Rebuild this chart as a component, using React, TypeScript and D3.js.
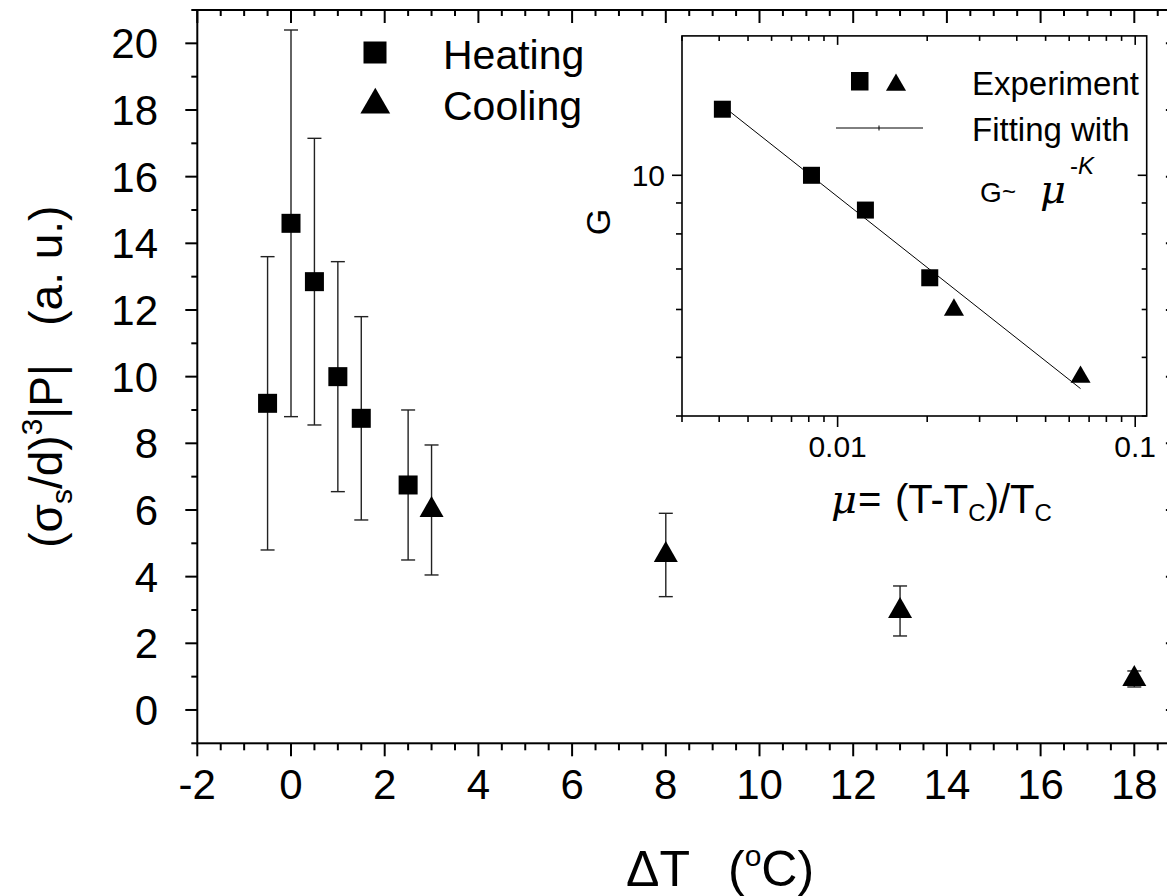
import React from 'react';
import * as d3 from 'd3';

// ---- main chart data ----
const heatingDT = [-0.5, 0, 0.5, 1, 1.5, 2.5];
const heatingVal = [9.2, 14.6, 12.85, 10.0, 8.75, 6.75];
const heatingErr = [4.4, 5.8, 4.3, 3.45, 3.05, 2.25];
const coolingDT = [3, 8, 13, 18];
const coolingVal = [6.0, 4.65, 2.97, 0.93];
const coolingErr = [1.95, 1.25, 0.75, 0.24];
const xTickValues = [-2, 0, 2, 4, 6, 8, 10, 12, 14, 16, 18];
const yTickValues = [0, 2, 4, 6, 8, 10, 12, 14, 16, 18, 20];

// ---- inset data ----
const insetHeatMu = [0.0041, 0.00817, 0.0124, 0.0204];
const insetHeatG = [12.86, 10.0, 8.76, 6.77];
const insetCoolMu = [0.0246, 0.0655];
const insetCoolG = [5.99, 4.64];
const fitMu = [0.00434, 0.0655];
const fitG = [12.75, 4.44];
const insetXMajor = [0.01, 0.1];
const insetXLabels = ['0.01', '0.1'];
const insetYMajor = [10];
const insetYLabels = ['10'];
const logMantissas = [2, 3, 4, 5, 6, 7, 8, 9];

const FONT = "'Liberation Sans', Arial, Helvetica, sans-serif";

export default function App() {
  const W = 1167, H = 896;
  const x = d3.scaleLinear().domain([-2, 18.93]).range([197.3, 197.3 + 20.93 * 46.85]);
  const y = d3.scaleLinear().domain([-1, 21]).range([743.3, 10]);
  const [x0, x1] = x.range();
  const [yb, yt] = y.range();

  const ix = d3.scaleLog().domain([0.003, 0.1093]).range([682, 1146.7]);
  const iy = d3.scaleLog().domain([4, 17]).range([416, 35.9]);
  const [ix0, ix1] = ix.range();
  const [iyb, iyt] = iy.range();

  const xMinor = d3.range(-2, 18.931, 0.5);
  const yMinor = d3.range(-1, 21.01, 1);
  const isMajorX = (v: number) => Math.abs(v / 2 - Math.round(v / 2)) < 1e-6;
  const isMajorY = (v: number) => Math.abs(v / 2 - Math.round(v / 2)) < 1e-6;

  const insetXMinor: number[] = [];
  [0.001, 0.01].forEach((dec) => logMantissas.forEach((m) => {
    const v = dec * m;
    if (v >= 0.003 - 1e-9 && v <= 0.1093) insetXMinor.push(v);
  }));
  const insetYMinor: number[] = [];
  [1].forEach((dec) => logMantissas.forEach((m) => {
    const v = dec * m;
    if (v >= 4 - 1e-9 && v <= 17) insetYMinor.push(v);
  }));

  const triMain = d3.symbol().type(d3.symbolTriangle).size(3 * Math.sqrt(3) * 6.93 * 6.93)();
  const triLegend = d3.symbol().type(d3.symbolTriangle).size(3 * Math.sqrt(3) * 8.6 * 8.6)();
  const triInset = d3.symbol().type(d3.symbolTriangle).size(3 * Math.sqrt(3) * 5.8 * 5.8)();

  const axisW = 2;
  const errStroke = '#222';
  const cap = 7;
  const sq = 19;
  const isq = 17;

  const fitLine = d3.line<number>().x((_, i) => ix(fitMu[i])).y((_, i) => iy(fitG[i]));

  return (
    <svg width={W} height={H} style={{ position: 'absolute', left: 0, top: 0, background: '#fff' }}
      fontFamily={FONT}>
      <rect x={0} y={0} width={W} height={H} fill="#fff" />

      {/* main frame */}
      <rect x={x0} y={yt} width={x1 - x0} height={yb - yt} fill="none" stroke="#000" strokeWidth={axisW} />

      {/* bottom ticks (outward) & top ticks (inward) */}
      {xMinor.map((v) => {
        const maj = isMajorX(v);
        return (
          <g key={'xt' + v}>
            <line x1={x(v)} x2={x(v)} y1={yb} y2={yb + (maj ? 13 : 7)} stroke="#000" strokeWidth={2} />
            <line x1={x(v)} x2={x(v)} y1={yt} y2={yt + (maj ? 13 : 6)} stroke="#000" strokeWidth={2} />
          </g>
        );
      })}
      {/* left ticks (outward) & right ticks (inward) */}
      {yMinor.map((v) => {
        const maj = isMajorY(v);
        return (
          <g key={'yt' + v}>
            <line x1={x0} x2={x0 - (maj ? 12 : 6)} y1={y(v)} y2={y(v)} stroke="#000" strokeWidth={2} />
            <line x1={x1} x2={x1 - (maj ? 12 : 6)} y1={y(v)} y2={y(v)} stroke="#000" strokeWidth={2} />
          </g>
        );
      })}
      {xTickValues.map((v) => (
        <text key={'xl' + v} x={x(v)} y={799} textAnchor="middle" fontSize={42}>{v}</text>
      ))}
      {yTickValues.map((v) => (
        <text key={'yl' + v} x={158} y={y(v)} dy="0.36em" textAnchor="end" fontSize={42}>{v}</text>
      ))}

      {/* axis titles */}
      <text x={626} y={886} fontSize={50}>
        <tspan>ΔT</tspan>
        <tspan x={728}>(</tspan>
        <tspan fontSize={30} dy={-20}>o</tspan>
        <tspan dy={20}>C)</tspan>
      </text>
      <text transform={`translate(62, ${(yb + yt) / 2}) rotate(-90)`} textAnchor="middle" fontSize={46}
        style={{ whiteSpace: 'pre' }}>
        <tspan>(σ</tspan>
        <tspan fontSize={30} dy={10}>s</tspan>
        <tspan dy={-10}>/d)</tspan>
        <tspan fontSize={30} dy={-20}>3</tspan>
        <tspan dy={20}>|P|   (a. u.)</tspan>
      </text>

      {/* error bars heating */}
      {heatingDT.map((d, i) => {
        const cx = x(d);
        const top = y(heatingVal[i] + heatingErr[i]);
        const bot = y(heatingVal[i] - heatingErr[i]);
        return (
          <g key={'he' + i} stroke={errStroke} strokeWidth={1.4}>
            <line x1={cx} x2={cx} y1={top} y2={bot} />
            <line x1={cx - cap} x2={cx + cap} y1={top} y2={top} />
            <line x1={cx - cap} x2={cx + cap} y1={bot} y2={bot} />
          </g>
        );
      })}
      {coolingDT.map((d, i) => {
        const cx = x(d);
        const top = y(coolingVal[i] + coolingErr[i]);
        const bot = y(coolingVal[i] - coolingErr[i]);
        return (
          <g key={'ce' + i} stroke={errStroke} strokeWidth={1.4}>
            <line x1={cx} x2={cx} y1={top} y2={bot} />
            <line x1={cx - cap} x2={cx + cap} y1={top} y2={top} />
            <line x1={cx - cap} x2={cx + cap} y1={bot} y2={bot} />
          </g>
        );
      })}
      {/* markers */}
      {heatingDT.map((d, i) => (
        <rect key={'hm' + i} x={x(d) - sq / 2} y={y(heatingVal[i]) - sq / 2} width={sq} height={sq} fill="#000" />
      ))}
      {coolingDT.map((d, i) => (
        <path key={'cm' + i} d={triMain || ''} transform={`translate(${x(d)},${y(coolingVal[i])})`} fill="#000" />
      ))}

      {/* main legend */}
      <rect x={375 - 11.5} y={52.5 - 11} width={23} height={22} fill="#000" />
      <text x={443} y={68.5} fontSize={41}>Heating</text>
      <path d={triLegend || ''} transform="translate(375.3,105)" fill="#000" />
      <text x={443} y={120} fontSize={41}>Cooling</text>

      {/* ---------- inset ---------- */}
      <rect x={ix0} y={iyt} width={ix1 - ix0} height={iyb - iyt} fill="#fff" stroke="#000" strokeWidth={1.6} />
      {insetXMinor.concat(insetXMajor).map((v, k) => {
        const maj = insetXMajor.includes(v);
        return (
          <g key={'ixt' + k} stroke="#000" strokeWidth={1.6}>
            <line x1={ix(v)} x2={ix(v)} y1={iyb} y2={iyb + (maj ? 11 : 6)} />
            <line x1={ix(v)} x2={ix(v)} y1={iyt} y2={iyt + (maj ? 9 : 5)} />
          </g>
        );
      })}
      {insetYMinor.concat(insetYMajor).map((v, k) => {
        const maj = insetYMajor.includes(v);
        return (
          <g key={'iyt' + k} stroke="#000" strokeWidth={1.6}>
            <line x1={ix0} x2={ix0 - (maj ? 10 : 6)} y1={iy(v)} y2={iy(v)} />
            <line x1={ix1} x2={ix1 - (maj ? 9 : 5)} y1={iy(v)} y2={iy(v)} />
          </g>
        );
      })}
      {insetXMajor.map((v, k) => (
        <text key={'ixl' + k} x={ix(v)} y={457} textAnchor="middle" fontSize={30}>{insetXLabels[k]}</text>
      ))}
      {insetYMajor.map((v, k) => (
        <text key={'iyl' + k} x={665} y={iy(v)} dy="0.36em" textAnchor="end" fontSize={30}>{insetYLabels[k]}</text>
      ))}
      <g transform={`translate(610, ${(iyb + iyt) / 2 - 4}) rotate(-90)`}>
        <text x={0} y={0} textAnchor="middle" fontSize={34}>G</text>
      </g>
      <text x={831} y={512.7} fontSize={40}>
        <tspan fontStyle="italic" fontFamily="'DejaVu Serif', serif">μ</tspan>
        <tspan x={858}>=</tspan>
        <tspan x={895}>(T-T</tspan>
        <tspan fontSize={24} dy={8}>C</tspan>
        <tspan dy={-8}>)/T</tspan>
        <tspan fontSize={24} dy={8}>C</tspan>
      </text>

      {/* fit line */}
      <path d={fitLine(fitMu) || ''} fill="none" stroke="#000" strokeWidth={1} />
      {insetHeatMu.map((m, i) => (
        <rect key={'ihm' + i} x={ix(m) - isq / 2} y={iy(insetHeatG[i]) - isq / 2} width={isq} height={isq} fill="#000" />
      ))}
      {insetCoolMu.map((m, i) => (
        <path key={'icm' + i} d={triInset || ''} transform={`translate(${ix(m)},${iy(insetCoolG[i])})`} fill="#000" />
      ))}

      {/* inset legend */}
      <rect x={851} y={72} width={17.5} height={18.5} fill="#000" />
      <path d={triInset || ''} transform="translate(896,85)" fill="#000" />
      <text x={972} y={95} fontSize={33}>Experiment</text>
      <line x1={836} x2={923} y1={128} y2={128} stroke="#000" strokeWidth={1} />
      <line x1={879} x2={879} y1={125.5} y2={130.5} stroke="#000" strokeWidth={1} />
      <text x={972} y={141} fontSize={33}>Fitting with</text>
      <text x={980} y={202} fontSize={28}>G</text>
      <text x={1002} y={200} fontSize={24}>~</text>
      <text x={1040} y={203} fontSize={40} fontStyle="italic" fontFamily="'DejaVu Serif', serif">μ</text>
      <text x={1070} y={174} fontSize={24}>-<tspan fontStyle="italic">K</tspan></text>
    </svg>
  );
}
